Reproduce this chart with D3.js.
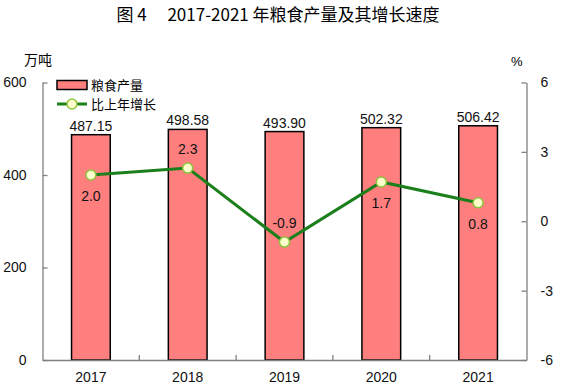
<!DOCTYPE html>
<html>
<head>
<meta charset="utf-8">
<script src="https://cdn.jsdelivr.net/npm/d3@7"></script>
<style>
  body { margin: 0; background: #fff; }
  svg { display: block; }
</style>
</head>
<body>
<svg id="chart"></svg>
<script>
const years = ["2017", "2018", "2019", "2020", "2021"];
const output = [487.15, 498.58, 493.90, 502.32, 506.42];
const growth = [2.0, 2.3, -0.9, 1.7, 0.8];
const growthLabelBelow = [true, false, false, true, true];
const leftTicks = [0, 200, 400, 600];
const rightTicks = [-6, -3, 0, 3, 6];

const W = 562, H = 391;
const margin = { top: 82.5, left: 42.5, right: 35.5, bottom: 31 };
const innerW = W - margin.left - margin.right;
const innerH = H - margin.top - margin.bottom;
const cjk = "'Noto Sans CJK SC', 'Noto Sans', sans-serif";
const latin = "'Liberation Sans', Arial, sans-serif";
const axisColor = "#808080";

const svg = d3.select("#chart").attr("width", W).attr("height", H);

svg.append("text")
  .attr("x", 278).attr("y", 21)
  .attr("text-anchor", "middle")
  .style("font-family", cjk).style("font-size", "17px")
  .style("fill", "#000")
  .text("图 4\u2003 2017-2021 年粮食产量及其增长速度");

svg.append("text").attr("x", 24).attr("y", 65)
  .style("font-family", cjk).style("font-size", "14px").text("万吨");
svg.append("text").attr("x", 511).attr("y", 66)
  .style("font-family", latin).style("font-size", "13px").text("%");

const g = svg.append("g").attr("transform", `translate(${margin.left},${margin.top})`);

const x = d3.scaleBand().domain(years).range([0, innerW]);
const yL = d3.scaleLinear().domain([0, 600]).range([innerH, 0]);
const yR = d3.scaleLinear().domain([-6, 6]).range([innerH, 0]);

// bars
const barW = x.bandwidth() * 0.4;
g.selectAll("rect.bar").data(years).join("rect")
  .attr("class", "bar")
  .attr("x", (d) => x(d) + (x.bandwidth() - barW) / 2)
  .attr("y", (d, i) => yL(output[i]))
  .attr("width", barW)
  .attr("height", (d, i) => innerH - yL(output[i]))
  .attr("fill", "#ff7f7f")
  .attr("stroke", "#000").attr("stroke-width", 1.5);

g.selectAll("text.barlab").data(years).join("text")
  .attr("class", "barlab")
  .attr("x", (d) => x(d) + x.bandwidth() / 2)
  .attr("y", (d, i) => yL(output[i]) - 4)
  .attr("text-anchor", "middle")
  .style("font-family", latin).style("font-size", "14px").style("fill", "#111")
  .text((d, i) => output[i].toFixed(2));

// axes
const styleAxis = (sel) => {
  sel.select(".domain").attr("stroke", axisColor).attr("stroke-width", 1.3);
  sel.selectAll(".tick line").attr("stroke", axisColor).attr("stroke-width", 1.3);
  sel.selectAll(".tick text").style("font-family", latin).style("font-size", "14px").attr("fill", "#111");
};

const axL = g.append("g")
  .call(d3.axisLeft(yL).tickValues(leftTicks).tickSize(-5).tickSizeOuter(0).tickPadding(16));
styleAxis(axL);

const axR = g.append("g").attr("transform", `translate(${innerW},0)`)
  .call(d3.axisRight(yR).tickValues(rightTicks).tickFormat((d) => String(d))
    .tickSize(-5).tickSizeOuter(0).tickPadding(14));
styleAxis(axR);

const axB = g.append("g").attr("transform", `translate(0,${innerH})`)
  .call(d3.axisBottom(x).tickSize(0).tickPadding(12));
styleAxis(axB);
// category boundary ticks, pointing up
g.append("g").selectAll("line").data(years.slice(1)).join("line")
  .attr("x1", (d) => x(d)).attr("x2", (d) => x(d))
  .attr("y1", innerH).attr("y2", innerH - 5)
  .attr("stroke", axisColor).attr("stroke-width", 1.3);

// growth line
const cx = (d) => x(d) + x.bandwidth() / 2;
const line = d3.line().x((d, i) => cx(years[i])).y((d) => yR(d));
g.append("path").datum(growth)
  .attr("d", line).attr("fill", "none")
  .attr("stroke", "#1b7f1b").attr("stroke-width", 3);

g.selectAll("circle.pt").data(growth).join("circle")
  .attr("class", "pt")
  .attr("cx", (d, i) => cx(years[i])).attr("cy", (d) => yR(d))
  .attr("r", 5)
  .attr("fill", "#ffffcc").attr("stroke", "#8cc63f").attr("stroke-width", 1.5);

g.selectAll("text.ptlab").data(growth).join("text")
  .attr("class", "ptlab")
  .attr("x", (d, i) => cx(years[i]))
  .attr("y", (d, i) => yR(d) + (growthLabelBelow[i] ? 26 : -14))
  .attr("text-anchor", "middle")
  .style("font-family", latin).style("font-size", "14px").style("fill", "#111")
  .text((d) => d.toFixed(1));

// legend
const lg = svg.append("g").attr("transform", "translate(57,80)");
lg.append("rect").attr("x", 0).attr("y", 0.5).attr("width", 30).attr("height", 9)
  .attr("fill", "#ff7f7f").attr("stroke", "#000").attr("stroke-width", 1.5);
lg.append("text").attr("x", 34).attr("y", 10)
  .style("font-family", cjk).style("font-size", "13px").text("粮食产量");
lg.append("line").attr("x1", 0).attr("x2", 30).attr("y1", 24).attr("y2", 24)
  .attr("stroke", "#1b7f1b").attr("stroke-width", 3);
lg.append("circle").attr("cx", 15).attr("cy", 24).attr("r", 5)
  .attr("fill", "#ffffcc").attr("stroke", "#8cc63f").attr("stroke-width", 1.5);
lg.append("text").attr("x", 34).attr("y", 29)
  .style("font-family", cjk).style("font-size", "13px").text("比上年增长");
</script>
</body>
</html>
